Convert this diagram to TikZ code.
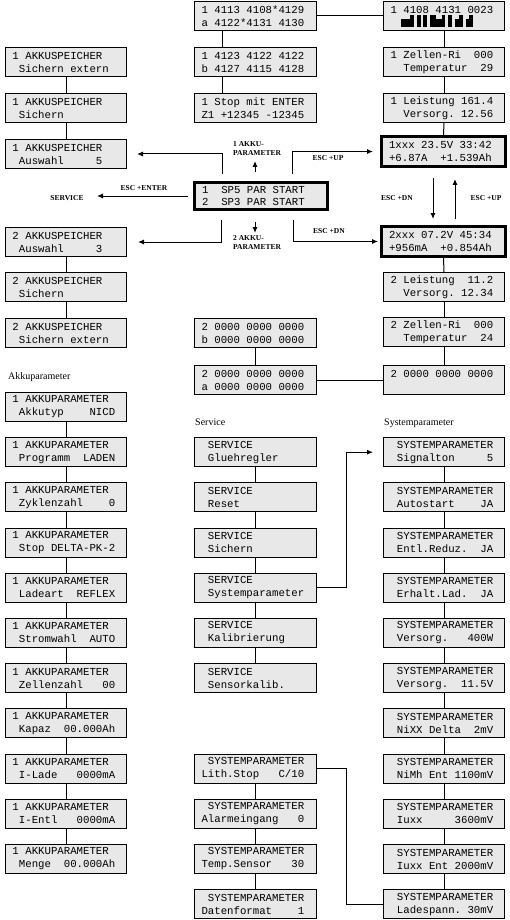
\documentclass[tikz,border=0pt]{standalone}
\usepackage{fontspec}
\setmainfont{Liberation Serif}
\newfontfamily\lcdf{Liberation Mono}
\usetikzlibrary{arrows.meta}
\definecolor{boxfill}{RGB}{232,232,232}
\newcommand\ls{\leavevmode\hbox to 0.6em{\hss}}
\begin{document}
\begin{tikzpicture}[x=1pt,y=-1pt,
 lcd/.style={draw, fill=boxfill, line width=1pt, anchor=north west, minimum height=29pt, text width=107pt, inner xsep=7pt, inner ysep=0pt, align=left, font=\lcdf\fontsize{10.7}{13}\selectfont},
 lcdw/.style={lcd, text width=108pt},
 thickbox/.style={lcd, anchor=center, line width=3pt, minimum height=30pt, text width=109pt, inner xsep=7.5pt},
 centerbox/.style={lcd, anchor=center, line width=3pt, minimum height=27pt, text width=118pt, inner xsep=7.5pt, font=\lcdf\fontsize{10.7}{12}\selectfont},
 lbl/.style={font=\fontsize{10}{12}\selectfont, inner sep=0pt, anchor=west},
 tinylbl/.style={font=\bfseries\fontsize{7.5}{9}\selectfont, inner sep=0pt, align=left},
 con/.style={line width=1pt},
 arr/.style={line width=1pt, -{Latex[length=6pt,width=5pt]}},
]
\useasboundingbox (0,0) rectangle (510,920);

% ---- upper left column
\node[lcd] (L1) at (5,47) {1\ls AKKUSPEICHER\\\ls Sichern\ls extern};
\node[lcd] (L2) at (5,93) {1\ls AKKUSPEICHER\\\ls Sichern};
\node[lcd] (L3) at (5,139) {1\ls AKKUSPEICHER\\\ls Auswahl\ls\ls\ls\ls\ls 5};
\node[lcd] (L4) at (5,227) {2\ls AKKUSPEICHER\\\ls Auswahl\ls\ls\ls\ls\ls 3};
\node[lcd] (L5) at (5,272) {2\ls AKKUSPEICHER\\\ls Sichern};
\node[lcd] (L6) at (5,318) {2\ls AKKUSPEICHER\\\ls Sichern\ls extern};
\draw[con] (L1.south) -- (L2.north);
\draw[con] (L2.south) -- (L3.north);
\draw[con] (L4.south) -- (L5.north);
\draw[con] (L5.south) -- (L6.north);

% ---- upper middle column
\node[lcdw] (M1) at (194,1) {1\ls 4113\ls 4108*4129\\a\ls 4122*4131\ls 4130};
\node[lcdw] (M2) at (194,47) {1\ls 4123\ls 4122\ls 4122\\b\ls 4127\ls 4115\ls 4128};
\node[lcdw] (M3) at (194,93) {1\ls Stop\ls mit\ls ENTER\\Z1\ls +12345\ls -12345};
\node[lcdw] (M4) at (194,318) {2\ls 0000\ls 0000\ls 0000\\b\ls 0000\ls 0000\ls 0000};
\node[lcdw] (M5) at (194,365) {2\ls 0000\ls 0000\ls 0000\\a\ls 0000\ls 0000\ls 0000};
\draw[con] ([xshift=28pt]M1.south west) -- ([xshift=28pt]M2.north west);
\draw[con] ([xshift=28pt]M2.south west) -- ([xshift=28pt]M3.north west);
\draw[con] (M4.south) -- (M5.north);

\node[centerbox] (C) at (261,196) {1\ls\ls SP5\ls PAR\ls START\\2\ls\ls SP3\ls PAR\ls START};

% ---- upper right column
\node[lcd] (R1) at (383,1) {1\ls 4108\ls 4131\ls 0023\\\mbox{}};
\node[lcd] (R2) at (383,47) {1\ls Zellen-Ri\ls\ls 000\\\ls\ls Temperatur\ls\ls 29};
\node[lcd] (R3) at (383,93) {1\ls Leistung\ls 161.4\\\ls\ls Versorg.\ls 12.56};
\node[thickbox] (T1) at (443.5,151.5) {1xxx\ls 23.5V\ls 33:42\\+6.87A\ls\ls +1.539Ah};
\node[thickbox] (T2) at (443.5,241.5) {2xxx\ls 07.2V\ls 45:34\\+956mA\ls\ls +0.854Ah};
\node[lcd] (R4) at (383,272) {2\ls Leistung\ls\ls 11.2\\\ls\ls Versorg.\ls 12.34};
\node[lcd] (R5) at (383,317) {2\ls Zellen-Ri\ls\ls 000\\\ls\ls Temperatur\ls\ls 24};
\node[lcd] (R6) at (383,365) {2\ls 0000\ls 0000\ls 0000\\\mbox{}};
\draw[con] (R1.south) -- (R2.north);
\draw[con] (R2.south) -- (R3.north);
\draw[con] (R3.south) -- (T1.north);
\draw[con] (T2.south) -- (R4.north);
\draw[con] (R4.south) -- (R5.north);
\draw[con] (R5.south) -- (R6.north);
\draw[con] (M1.east) -- (R1.west);
\draw[con] (M5.east) -- (R6.west);

% bar graph
\fill (401,19) rectangle (410,27);
\fill (410,15) rectangle (414,27);
\fill (417,15) rectangle (421,27);
\fill (423,15) rectangle (427,27);
\fill (430,15) rectangle (436,27);
\fill (436,19) rectangle (442,27);
\fill (442,15) rectangle (445,27);
\fill (448,15) rectangle (452,27);
\fill (455,19) rectangle (459,27);
\fill (459,15) rectangle (463,27);
\fill (466,19) rectangle (469,27);
\fill (469,15) rectangle (473,27);

% ---- arrows around the centre box
\coordinate (ulA) at (222,174);
\coordinate (urA) at (292,174);
\coordinate (dlA) at (221,220);
\coordinate (drA) at (293,220);
\coordinate (svc) at (97,196);
\coordinate (upS) at (255,172);
\coordinate (upE) at (255,161);
\coordinate (dnS) at (255,222);
\coordinate (dnE) at (255,233);
\draw[arr, shorten >=10pt] (ulA) |- (L3.east);
\draw[arr, shorten >=7pt] (urA) |- (T1.west);
\draw[arr, shorten >=11pt] (dlA) |- (L4.east);
\draw[arr, shorten >=2pt] (drA) |- (T2.west);
\draw[arr, shorten <=5pt] (C.west) -- (svc);
\draw[arr] (upS) -- (upE);
\draw[arr] (dnS) -- (dnE);

\coordinate (dA) at (433,178);
\coordinate (dB) at (433,219);
\coordinate (uA) at (455,219);
\coordinate (uB) at (455,179);
\draw[arr] (dA) -- (dB);
\draw[arr] (uA) -- (uB);

\node[tinylbl, anchor=west] (k1) at (233,148.5) {1 AKKU-\\PARAMETER};
\node[tinylbl, anchor=west] (k2) at (233,243) {2 AKKU-\\PARAMETER};
\node[tinylbl] (e1) at (144,188) {ESC +ENTER};
\node[tinylbl] (sv) at (67,198) {SERVICE};
\node[tinylbl] (e2) at (328,158) {ESC +UP};
\node[tinylbl] (e3) at (329,231) {ESC +DN};
\node[tinylbl] (e4) at (397,198) {ESC +DN};
\node[tinylbl] (e5) at (486,198) {ESC +UP};

% ---- section labels
\node[lbl] (hA) at (8,377) {Akkuparameter};
\node[lbl] (hS) at (195,422) {Service};
\node[lbl] (hY) at (384,423) {Systemparameter};

% ---- Akkuparameter column
\node[lcd] (P0) at (5,392.0) {1\ls AKKUPARAMETER\\\ls Akkutyp\ls\ls\ls\ls NICD};
\node[lcd] (P1) at (5,437.2) {1\ls AKKUPARAMETER\\\ls Programm\ls\ls LADEN};
\node[lcd] (P2) at (5,482.4) {1\ls AKKUPARAMETER\\\ls Zyklenzahl\ls\ls\ls\ls 0};
\node[lcd] (P3) at (5,527.6) {1\ls AKKUPARAMETER\\\ls Stop\ls DELTA-PK-2};
\node[lcd] (P4) at (5,572.8) {1\ls AKKUPARAMETER\\\ls Ladeart\ls\ls REFLEX};
\node[lcd] (P5) at (5,618.0) {1\ls AKKUPARAMETER\\\ls Stromwahl\ls\ls AUTO};
\node[lcd] (P6) at (5,663.2) {1\ls AKKUPARAMETER\\\ls Zellenzahl\ls\ls\ls 00};
\node[lcd] (P7) at (5,708.4) {1\ls AKKUPARAMETER\\\ls Kapaz\ls\ls 00.000Ah};
\node[lcd] (P8) at (5,753.6) {1\ls AKKUPARAMETER\\\ls I-Lade\ls\ls\ls 0000mA};
\node[lcd] (P9) at (5,798.8) {1\ls AKKUPARAMETER\\\ls I-Entl\ls\ls\ls 0000mA};
\node[lcd] (P10) at (5,844.0) {1\ls AKKUPARAMETER\\\ls Menge\ls\ls 00.000Ah};
\foreach \a/\b in {P0/P1,P1/P2,P2/P3,P3/P4,P4/P5,P5/P6,P6/P7,P7/P8,P8/P9,P9/P10}
  \draw[con] (\a.south) -- (\b.north);

% ---- Service column
\node[lcdw] (S1) at (194,437.2) {\ls SERVICE\\\ls Gluehregler};
\node[lcdw] (S2) at (194,482.4) {\ls SERVICE\\\ls Reset};
\node[lcdw] (S3) at (194,527.6) {\ls SERVICE\\\ls Sichern};
\node[lcdw] (S4) at (194,572.8) {\ls SERVICE\\\ls Systemparameter};
\node[lcdw] (S5) at (194,618.0) {\ls SERVICE\\\ls Kalibrierung};
\node[lcdw] (S6) at (194,663.2) {\ls SERVICE\\\ls Sensorkalib.};
\foreach \a/\b in {S1/S2,S2/S3,S3/S4,S4/S5,S5/S6}
  \draw[con] (\a.south) -- (\b.north);

% ---- Systemparameter right column
\node[lcd] (Y1) at (383,437.2) {\ls SYSTEMPARAMETER\\\ls Signalton\ls\ls\ls\ls\ls 5};
\node[lcd] (Y2) at (383,482.4) {\ls SYSTEMPARAMETER\\\ls Autostart\ls\ls\ls\ls JA};
\node[lcd] (Y3) at (383,527.6) {\ls SYSTEMPARAMETER\\\ls Entl.Reduz.\ls\ls JA};
\node[lcd] (Y4) at (383,572.8) {\ls SYSTEMPARAMETER\\\ls Erhalt.Lad.\ls\ls JA};
\node[lcd] (Y5) at (383,618.0) {\ls SYSTEMPARAMETER\\\ls Versorg.\ls\ls\ls 400W};
\node[lcd] (Y6) at (383,663.2) {\ls SYSTEMPARAMETER\\\ls Versorg.\ls\ls 11.5V};
\node[lcd] (Y7) at (383,708.4) {\ls SYSTEMPARAMETER\\\ls NiXX\ls Delta\ls\ls 2mV};
\node[lcd] (Y8) at (383,753.6) {\ls SYSTEMPARAMETER\\\ls NiMh\ls Ent\ls 1100mV};
\node[lcd] (Y9) at (383,798.8) {\ls SYSTEMPARAMETER\\\ls Iuxx\ls\ls\ls\ls\ls 3600mV};
\node[lcd] (Y10) at (383,844.0) {\ls SYSTEMPARAMETER\\\ls Iuxx\ls Ent\ls 2000mV};
\node[lcd] (Y11) at (383,889.2) {\ls SYSTEMPARAMETER\\\ls Ladespann.\ls 30mV};
\foreach \a/\b in {Y1/Y2,Y2/Y3,Y3/Y4,Y4/Y5,Y5/Y6,Y6/Y7,Y7/Y8,Y8/Y9,Y9/Y10,Y10/Y11}
  \draw[con] (\a.south) -- (\b.north);

% ---- Systemparameter middle column
\node[lcdw] (Z1) at (194,753.6) {\ls SYSTEMPARAMETER\\Lith.Stop\ls\ls\ls C/10};
\node[lcdw] (Z2) at (194,798.8) {\ls SYSTEMPARAMETER\\Alarmeingang\ls\ls\ls 0};
\node[lcdw] (Z3) at (194,844.0) {\ls SYSTEMPARAMETER\\Temp.Sensor\ls\ls\ls 30};
\node[lcdw] (Z4) at (194,889.2) {\ls SYSTEMPARAMETER\\Datenformat\ls\ls\ls\ls 1};
\foreach \a/\b in {Z1/Z2,Z2/Z3,Z3/Z4}
  \draw[con] (\a.south) -- (\b.north);

% ---- cross links
\draw[arr, shorten >=10pt] (S4.east) -- ++(29,0) |- (Y1.west);
\draw[con] (Z1.east) -- ++(29,0) |- (Y11.west);
\end{tikzpicture}
\end{document}
